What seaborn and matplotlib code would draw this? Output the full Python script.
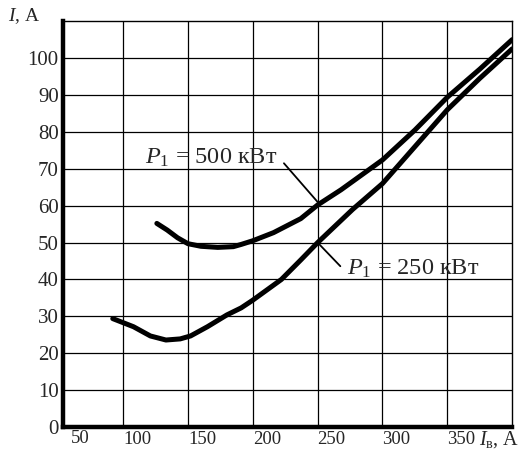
import numpy as np
import pandas as pd
import matplotlib.pyplot as plt
import matplotlib.transforms as mtransforms
import seaborn as sns

sns.set_style("white")
plt.rcParams["font.family"] = ["Liberation Serif", "DejaVu Serif"]
plt.rcParams["mathtext.fontset"] = "custom"
plt.rcParams["mathtext.rm"] = "Liberation Serif"
plt.rcParams["mathtext.it"] = "Liberation Serif:italic"
plt.rcParams["mathtext.bf"] = "Liberation Serif:bold"

# V-curves, I = f(I_в)
iv_500 = [126, 134, 142, 150, 160, 173, 185, 191, 200, 216, 237, 250, 268, 300, 325, 350, 375, 400]
i_500 = [55.2, 53.4, 51.3, 49.7, 49.0, 48.7, 48.9, 49.5, 50.5, 52.7, 56.5, 60.2, 64.3, 72.4, 80.5, 89.4, 97, 105]

iv_250 = [92, 108, 121, 133, 144, 152, 165, 180, 191, 200, 222, 237, 250, 277, 300, 325, 350, 375, 400]
i_250 = [29.4, 27.2, 24.7, 23.6, 23.9, 24.7, 27.2, 30.4, 32.3, 34.4, 40, 45.3, 50, 59, 66, 76, 86, 94.5, 102.5]

xticks = [100, 150, 200, 250, 300, 350]
yticks = [0, 10, 20, 30, 40, 50, 60, 70, 80, 90, 100]

df = pd.concat([
    pd.DataFrame({"Iv": iv_500, "I": i_500, "P": "500"}),
    pd.DataFrame({"Iv": iv_250, "I": i_250, "P": "250"}),
])

fig = plt.figure(figsize=(5.28, 4.51), dpi=100)
ax = fig.add_axes([0.119, 0.053, 0.851, 0.9])

sns.lineplot(data=df, x="Iv", y="I", units="P", estimator=None,
             color="black", lw=3.6, ax=ax, legend=False,
             solid_capstyle="round", solid_joinstyle="round")

ax.set_xlim(53.5, 400)
ax.set_ylim(0, 110)
ax.set_xticks(xticks)
ax.set_yticks(yticks)
ax.grid(True, color="black", lw=0.9)
ax.set_axisbelow(True)
ax.tick_params(length=0, pad=3)
ax.tick_params(axis="x", labelsize=13.5)
ax.tick_params(axis="y", labelsize=15)
ax.set_xlabel("")
ax.set_ylabel("")

# x tick labels sit a bit right of the grid lines
shift = mtransforms.ScaledTranslation(14 / 100, 0, fig.dpi_scale_trans)
for lab in ax.get_xticklabels():
    lab.set_transform(lab.get_transform() + shift)
# the "50" label at the left edge
ax.annotate("50", xy=(0, 0), xycoords="axes fraction", xytext=(12.5, -2.2),
            textcoords="offset points", ha="center", va="top", fontsize=13.5)

for side in ["left", "bottom"]:
    ax.spines[side].set_linewidth(3.2)
    ax.spines[side].set_color("black")
for side in ["top", "right"]:
    ax.spines[side].set_linewidth(1.0)
    ax.spines[side].set_color("black")

# axis titles
ax.text(-0.122, 1.012, "$I$, A", transform=ax.transAxes, fontsize=14,
        ha="left", va="center")
ax.text(0.926, -0.043, "$I_{\\mathrm{в}}$, A", transform=ax.transAxes, fontsize=14.5,
        ha="left", va="baseline")

# curve labels with leader lines
ax.plot([224, 250], [71.5, 61], color="black", lw=1.3)
ax.text(219, 73, "$P_1$ = 500 кВт", fontsize=17.5, ha="right", va="center")
ax.plot([250, 267.5], [50, 43.6], color="black", lw=1.3)
ax.text(272.5, 43, "$P_1$ = 250 кВт", fontsize=17.5, ha="left", va="center")

plt.savefig("out.png", dpi=100)
